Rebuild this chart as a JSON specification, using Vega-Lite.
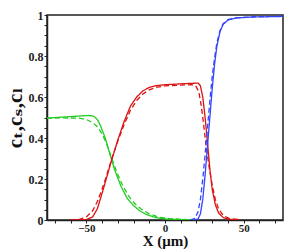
{
  "$schema": "https://vega.github.io/schema/vega-lite/v6.json",
  "width": 236,
  "height": 205,
  "autosize": {"type": "none"},
  "padding": {"left": 47, "top": 15, "right": 15, "bottom": 29},
  "background": "white",
  "config": {
    "view": {"stroke": "#222", "strokeWidth": 1.5},
    "axis": {
      "labelFont": "Liberation Serif, Times New Roman, DejaVu Serif, serif", "labelFontWeight": "bold", "labelFontSize": 12, "labelColor": "#222",
      "titleFont": "Liberation Serif, Times New Roman, DejaVu Serif, serif", "titleFontWeight": "bold", "titleColor": "#111",
      "domainColor": "#222", "domainWidth": 1.5, "tickColor": "#222", "tickSize": 3, "grid": false
    }
  },
  "data": {"values": [
    {"x": -75, "v": 0.497, "s": "cl", "t": "solid"},
    {"x": -65, "v": 0.502, "s": "cl", "t": "solid"},
    {"x": -55, "v": 0.507, "s": "cl", "t": "solid"},
    {"x": -48, "v": 0.51, "s": "cl", "t": "solid"},
    {"x": -45, "v": 0.505, "s": "cl", "t": "solid"},
    {"x": -43, "v": 0.49, "s": "cl", "t": "solid"},
    {"x": -41, "v": 0.46, "s": "cl", "t": "solid"},
    {"x": -38, "v": 0.40, "s": "cl", "t": "solid"},
    {"x": -35, "v": 0.32, "s": "cl", "t": "solid"},
    {"x": -32, "v": 0.245, "s": "cl", "t": "solid"},
    {"x": -28, "v": 0.165, "s": "cl", "t": "solid"},
    {"x": -24, "v": 0.105, "s": "cl", "t": "solid"},
    {"x": -20, "v": 0.07, "s": "cl", "t": "solid"},
    {"x": -16, "v": 0.045, "s": "cl", "t": "solid"},
    {"x": -12, "v": 0.027, "s": "cl", "t": "solid"},
    {"x": -6, "v": 0.012, "s": "cl", "t": "solid"},
    {"x": 0, "v": 0.005, "s": "cl", "t": "solid"},
    {"x": 10, "v": 0.002, "s": "cl", "t": "solid"},
    {"x": 20, "v": 0.001, "s": "cl", "t": "solid"},
    {"x": -75, "v": 0.497, "s": "cl", "t": "dash"},
    {"x": -65, "v": 0.498, "s": "cl", "t": "dash"},
    {"x": -55, "v": 0.497, "s": "cl", "t": "dash"},
    {"x": -50, "v": 0.49, "s": "cl", "t": "dash"},
    {"x": -46, "v": 0.475, "s": "cl", "t": "dash"},
    {"x": -43, "v": 0.455, "s": "cl", "t": "dash"},
    {"x": -40, "v": 0.42, "s": "cl", "t": "dash"},
    {"x": -37, "v": 0.37, "s": "cl", "t": "dash"},
    {"x": -34, "v": 0.305, "s": "cl", "t": "dash"},
    {"x": -31, "v": 0.24, "s": "cl", "t": "dash"},
    {"x": -27, "v": 0.17, "s": "cl", "t": "dash"},
    {"x": -23, "v": 0.115, "s": "cl", "t": "dash"},
    {"x": -19, "v": 0.078, "s": "cl", "t": "dash"},
    {"x": -15, "v": 0.052, "s": "cl", "t": "dash"},
    {"x": -10, "v": 0.03, "s": "cl", "t": "dash"},
    {"x": -4, "v": 0.014, "s": "cl", "t": "dash"},
    {"x": 4, "v": 0.006, "s": "cl", "t": "dash"},
    {"x": 14, "v": 0.002, "s": "cl", "t": "dash"},
    {"x": 22, "v": 0.001, "s": "cl", "t": "dash"},
    {"x": -60, "v": 0.0, "s": "cs", "t": "solid"},
    {"x": -50, "v": 0.002, "s": "cs", "t": "solid"},
    {"x": -46, "v": 0.015, "s": "cs", "t": "solid"},
    {"x": -43, "v": 0.055, "s": "cs", "t": "solid"},
    {"x": -40, "v": 0.13, "s": "cs", "t": "solid"},
    {"x": -37, "v": 0.21, "s": "cs", "t": "solid"},
    {"x": -34, "v": 0.29, "s": "cs", "t": "solid"},
    {"x": -30, "v": 0.39, "s": "cs", "t": "solid"},
    {"x": -26, "v": 0.48, "s": "cs", "t": "solid"},
    {"x": -22, "v": 0.555, "s": "cs", "t": "solid"},
    {"x": -18, "v": 0.6, "s": "cs", "t": "solid"},
    {"x": -14, "v": 0.63, "s": "cs", "t": "solid"},
    {"x": -10, "v": 0.647, "s": "cs", "t": "solid"},
    {"x": -5, "v": 0.656, "s": "cs", "t": "solid"},
    {"x": 0, "v": 0.66, "s": "cs", "t": "solid"},
    {"x": 10, "v": 0.664, "s": "cs", "t": "solid"},
    {"x": 18, "v": 0.667, "s": "cs", "t": "solid"},
    {"x": 21, "v": 0.668, "s": "cs", "t": "solid"},
    {"x": 22.5, "v": 0.655, "s": "cs", "t": "solid"},
    {"x": 24, "v": 0.6, "s": "cs", "t": "solid"},
    {"x": 25.5, "v": 0.5, "s": "cs", "t": "solid"},
    {"x": 27, "v": 0.38, "s": "cs", "t": "solid"},
    {"x": 28.5, "v": 0.25, "s": "cs", "t": "solid"},
    {"x": 30, "v": 0.15, "s": "cs", "t": "solid"},
    {"x": 32, "v": 0.075, "s": "cs", "t": "solid"},
    {"x": 34, "v": 0.035, "s": "cs", "t": "solid"},
    {"x": 37, "v": 0.012, "s": "cs", "t": "solid"},
    {"x": 41, "v": 0.003, "s": "cs", "t": "solid"},
    {"x": 48, "v": 0.0, "s": "cs", "t": "solid"},
    {"x": -60, "v": 0.0, "s": "cs", "t": "dash"},
    {"x": -54, "v": 0.004, "s": "cs", "t": "dash"},
    {"x": -50, "v": 0.015, "s": "cs", "t": "dash"},
    {"x": -46, "v": 0.045, "s": "cs", "t": "dash"},
    {"x": -43, "v": 0.09, "s": "cs", "t": "dash"},
    {"x": -40, "v": 0.15, "s": "cs", "t": "dash"},
    {"x": -37, "v": 0.22, "s": "cs", "t": "dash"},
    {"x": -34, "v": 0.295, "s": "cs", "t": "dash"},
    {"x": -30, "v": 0.385, "s": "cs", "t": "dash"},
    {"x": -26, "v": 0.465, "s": "cs", "t": "dash"},
    {"x": -22, "v": 0.535, "s": "cs", "t": "dash"},
    {"x": -18, "v": 0.583, "s": "cs", "t": "dash"},
    {"x": -14, "v": 0.615, "s": "cs", "t": "dash"},
    {"x": -10, "v": 0.635, "s": "cs", "t": "dash"},
    {"x": -5, "v": 0.648, "s": "cs", "t": "dash"},
    {"x": 0, "v": 0.654, "s": "cs", "t": "dash"},
    {"x": 10, "v": 0.658, "s": "cs", "t": "dash"},
    {"x": 17, "v": 0.66, "s": "cs", "t": "dash"},
    {"x": 19.5, "v": 0.655, "s": "cs", "t": "dash"},
    {"x": 21.5, "v": 0.625, "s": "cs", "t": "dash"},
    {"x": 23, "v": 0.56, "s": "cs", "t": "dash"},
    {"x": 24.5, "v": 0.47, "s": "cs", "t": "dash"},
    {"x": 26, "v": 0.37, "s": "cs", "t": "dash"},
    {"x": 28, "v": 0.26, "s": "cs", "t": "dash"},
    {"x": 30, "v": 0.17, "s": "cs", "t": "dash"},
    {"x": 32, "v": 0.1, "s": "cs", "t": "dash"},
    {"x": 34, "v": 0.055, "s": "cs", "t": "dash"},
    {"x": 37, "v": 0.022, "s": "cs", "t": "dash"},
    {"x": 41, "v": 0.007, "s": "cs", "t": "dash"},
    {"x": 48, "v": 0.001, "s": "cs", "t": "dash"},
    {"x": 18, "v": 0.0, "s": "ct", "t": "solid"},
    {"x": 21, "v": 0.005, "s": "ct", "t": "solid"},
    {"x": 22.5, "v": 0.03, "s": "ct", "t": "solid"},
    {"x": 24, "v": 0.1, "s": "ct", "t": "solid"},
    {"x": 25.5, "v": 0.22, "s": "ct", "t": "solid"},
    {"x": 27, "v": 0.36, "s": "ct", "t": "solid"},
    {"x": 28.5, "v": 0.5, "s": "ct", "t": "solid"},
    {"x": 30, "v": 0.64, "s": "ct", "t": "solid"},
    {"x": 31.5, "v": 0.76, "s": "ct", "t": "solid"},
    {"x": 33, "v": 0.85, "s": "ct", "t": "solid"},
    {"x": 35, "v": 0.92, "s": "ct", "t": "solid"},
    {"x": 37, "v": 0.955, "s": "ct", "t": "solid"},
    {"x": 40, "v": 0.975, "s": "ct", "t": "solid"},
    {"x": 45, "v": 0.985, "s": "ct", "t": "solid"},
    {"x": 55, "v": 0.99, "s": "ct", "t": "solid"},
    {"x": 75, "v": 0.993, "s": "ct", "t": "solid"},
    {"x": 16, "v": 0.0, "s": "ct", "t": "dash"},
    {"x": 19, "v": 0.008, "s": "ct", "t": "dash"},
    {"x": 21, "v": 0.04, "s": "ct", "t": "dash"},
    {"x": 22.5, "v": 0.1, "s": "ct", "t": "dash"},
    {"x": 24, "v": 0.2, "s": "ct", "t": "dash"},
    {"x": 25.5, "v": 0.32, "s": "ct", "t": "dash"},
    {"x": 27, "v": 0.45, "s": "ct", "t": "dash"},
    {"x": 28.5, "v": 0.58, "s": "ct", "t": "dash"},
    {"x": 30, "v": 0.7, "s": "ct", "t": "dash"},
    {"x": 31.5, "v": 0.79, "s": "ct", "t": "dash"},
    {"x": 33, "v": 0.865, "s": "ct", "t": "dash"},
    {"x": 35, "v": 0.925, "s": "ct", "t": "dash"},
    {"x": 37, "v": 0.958, "s": "ct", "t": "dash"},
    {"x": 40, "v": 0.977, "s": "ct", "t": "dash"},
    {"x": 45, "v": 0.986, "s": "ct", "t": "dash"},
    {"x": 55, "v": 0.991, "s": "ct", "t": "dash"},
    {"x": 75, "v": 0.994, "s": "ct", "t": "dash"}
  ]},
  "mark": {"type": "line", "strokeWidth": 1.3, "clip": true},
  "encoding": {
    "x": {
      "field": "x", "type": "quantitative",
      "scale": {"domain": [-75, 75], "nice": false, "zero": false},
      "axis": {
        "title": "X (μm)", "titleFontSize": 15, "titleBaseline": "alphabetic", "titleY": 25,
        "values": [-70, -60, -50, -40, -30, -20, -10, 0, 10, 20, 30, 40, 50, 60, 70],
        "labelExpr": "datum.value % 50 == 0 ? datum.label : ''",
        "labelFontSize": 11,
        "labelPadding": -1
      }
    },
    "y": {
      "field": "v", "type": "quantitative",
      "scale": {"domain": [0, 1], "nice": false},
      "axis": {
        "title": "cₜ,cₛ,cₗ", "titleFontSize": 21, "titlePadding": 3,
        "values": [0, 0.05, 0.1, 0.15, 0.2, 0.25, 0.3, 0.35, 0.4, 0.45, 0.5, 0.55, 0.6, 0.65, 0.7, 0.75, 0.8, 0.85, 0.9, 0.95, 1],
        "labelExpr": "round(datum.value * 20) % 4 == 0 ? '' + round(datum.value * 10) / 10 : ''",
        "labelPadding": 1
      }
    },
    "color": {
      "field": "s", "type": "nominal",
      "scale": {"domain": ["cl", "cs", "ct"], "range": ["#22cc22", "#dd1111", "#3344ff"]},
      "legend": null
    },
    "strokeDash": {
      "field": "t", "type": "nominal",
      "scale": {"domain": ["solid", "dash"], "range": [[1, 0], [5, 3]]},
      "legend": null
    }
  }
}
